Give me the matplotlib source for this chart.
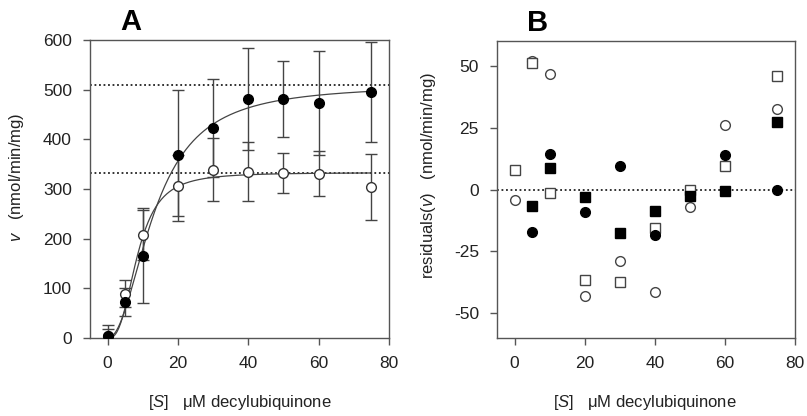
import numpy as np
import matplotlib
matplotlib.use("Agg")
import matplotlib.pyplot as plt

plt.rcParams['font.family'] = ['Liberation Sans', 'DejaVu Sans']
plt.rcParams['mathtext.fontset'] = 'custom'
plt.rcParams['mathtext.rm'] = 'Liberation Sans'
plt.rcParams['mathtext.it'] = 'Liberation Sans:italic'
plt.rcParams['axes.unicode_minus'] = False

# ---- Panel A data ----
conc = [0, 5, 10, 20, 30, 40, 50, 60, 75]
v_filled = [4, 72, 166, 368, 423, 481, 481, 473, 495]
err_filled = [14, 28, 95, 132, 99, 103, 76, 105, 101]
v_open = [5, 89, 208, 307, 339, 335, 332, 331, 304]
err_open = [22, 27, 50, 62, 64, 60, 41, 46, 67]

# Hill fit parameters
vmax_filled, k_filled, n_filled = 510, 13.4, 2.1
vmax_open, k_open, n_open = 333, 8.5, 2.8

# ---- Panel B residuals ----
res_open_sq = [8, 51, -1.6, -36.6, -37.5, -15.5, 0, 9.5, 46]
res_open_ci = [-4.3, 52, 46.8, -43, -28.9, -41.4, -7, 26, 32.4]
res_fill_sq = [np.nan, -6.6, 8.7, -3.2, -17.7, -8.7, -2.7, -0.5, 27.1]
res_fill_ci = [np.nan, -17.1, 14.5, -9, 9.4, -18.4, np.nan, 14.1, -0.3]

W, H = 807, 416
fig = plt.figure(figsize=(W / 100, H / 100), dpi=100)

axA = fig.add_axes([90 / W, (H - 338) / H, 299 / W, 298 / H])
axB = fig.add_axes([497 / W, (H - 338) / H, 298 / W, 297 / H])

spine_col = '#555555'
txt_col = '#222222'
for ax in (axA, axB):
    for s in ax.spines.values():
        s.set_color(spine_col)
        s.set_linewidth(1.0)
    ax.tick_params(direction='out', length=5, width=1, color=spine_col,
                   labelsize=12.5, labelcolor=txt_col, pad=8)

# Panel A
s = np.linspace(0, 75, 300)
fit_f = vmax_filled * s**n_filled / (k_filled**n_filled + s**n_filled)
fit_o = vmax_open * s**n_open / (k_open**n_open + s**n_open)
axA.axhline(vmax_filled, color='#222222', ls=(0, (1, 1.5)), lw=1.3, zorder=1)
axA.axhline(vmax_open, color='#222222', ls=(0, (1, 1.5)), lw=1.3, zorder=1)
axA.plot(s, fit_f, color='#444444', lw=0.9, zorder=2)
axA.plot(s, fit_o, color='#444444', lw=0.9, zorder=2)
axA.errorbar(conc, v_filled, yerr=err_filled, fmt='none', ecolor='#444444',
             elinewidth=1.0, capsize=4, capthick=1.0, zorder=3)
axA.errorbar(conc, v_open, yerr=err_open, fmt='none', ecolor='#444444',
             elinewidth=1.0, capsize=4, capthick=1.0, zorder=3)
axA.plot(conc, v_open, 'o', ms=7, mfc='white', mec='#333333', mew=1.0, zorder=4)
axA.plot(conc, v_filled, 'o', ms=7, mfc='black', mec='black', zorder=5)
axA.set_xlim(-5, 80)
axA.set_ylim(0, 600)
axA.set_xticks([0, 20, 40, 60, 80])
axA.set_yticks([0, 100, 200, 300, 400, 500, 600])

# Panel B
axB.axhline(0, color='#222222', ls=(0, (1, 1.5)), lw=1.3, zorder=1)
axB.plot(conc, res_open_ci, 'o', ms=7, mfc='white', mec='#444444', mew=1.0, zorder=3)
axB.plot(conc, res_open_sq, 's', ms=6.5, mfc='white', mec='#444444', mew=1.0, zorder=4)
axB.plot(conc, res_fill_sq, 's', ms=6.5, mfc='black', mec='black', zorder=5)
axB.plot(conc, res_fill_ci, 'o', ms=7, mfc='black', mec='black', zorder=6)
axB.set_xlim(-5, 80)
axB.set_ylim(-60, 60)
axB.set_xticks([0, 20, 40, 60, 80])
axB.set_yticks([-50, -25, 0, 25, 50])

# x labels
xlab = r'[$\mathit{S}$]   μM decylubiquinone'
fig.text(240 / W, 1 - 402 / H, xlab, ha='center', va='center', fontsize=12,
         color=txt_col)
fig.text(645 / W, 1 - 402 / H, xlab, ha='center', va='center', fontsize=12,
         color=txt_col)

# y labels
fig.text(17 / W, 1 - 177 / H, r'$\mathit{v}$   (nmol/min/mg)', rotation=90,
         ha='center', va='center', fontsize=12, color=txt_col)
fig.text(428 / W, 1 - 176 / H, r'residuals($\mathit{v}$)   (nmol/min/mg)', rotation=90,
         ha='center', va='center', fontsize=12, color=txt_col)

# Panel titles
fig.text(131 / W, 1 - 22 / H, 'A', ha='center', va='center', fontsize=21,
         fontweight='bold', color='black')
fig.text(538 / W, 1 - 23 / H, 'B', ha='center', va='center', fontsize=21,
         fontweight='bold', color='black')

fig.savefig('out.png', dpi=100)
